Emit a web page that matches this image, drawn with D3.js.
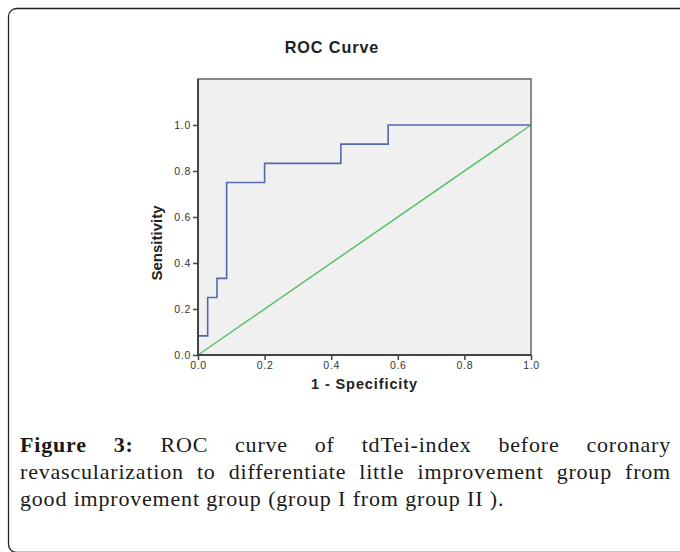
<!DOCTYPE html>
<html><head><meta charset="utf-8">
<script src="https://cdn.jsdelivr.net/npm/d3@7"></script>
<style>html,body{margin:0;padding:0;background:#fff;}svg{display:block;}</style>
</head><body>
<script>
// Data
const fpr = [0, 0, 0.029, 0.029, 0.057, 0.057, 0.086, 0.086, 0.2, 0.2, 0.429, 0.429, 0.571, 0.571, 1.0];
const tpr = [0, 0.083, 0.083, 0.25, 0.25, 0.333, 0.333, 0.75, 0.75, 0.833, 0.833, 0.917, 0.917, 1.0, 1.0];
const refX = [0, 1];
const refY = [0, 1];
const xTicks = [0, 0.2, 0.4, 0.6, 0.8, 1.0];
const yTicks = [0, 0.2, 0.4, 0.6, 0.8, 1.0];
const title = "ROC Curve";
const xLabel = "1 - Specificity";
const yLabel = "Sensitivity";
const captionLines = [
  {words: ["Figure", "3:", "ROC", "curve", "of", "tdTei-index", "before", "coronary"], bold: 2, justify: true},
  {words: ["revascularization", "to", "differentiate", "little", "improvement", "group", "from"], bold: 0, justify: true},
  {words: ["good", "improvement", "group", "(group", "I", "from", "group", "II", ")."], bold: 0, justify: false}
];

const W = 680, H = 552;
const svg = d3.select("body").append("svg").attr("width", W).attr("height", H);

// outer rounded frame
svg.append("rect").attr("x", 8.5).attr("y", 8.5).attr("width", 690).attr("height", 544)
  .attr("rx", 8).attr("fill", "none").attr("stroke", "#222").attr("stroke-width", 1.3);

const x = d3.scaleLinear().domain([0, 1]).range([198, 531]);
const y = d3.scaleLinear().domain([0, 1.2]).range([355, 79]);

// plot background
svg.append("rect").attr("x", x(0)).attr("y", y(1.2)).attr("width", x(1) - x(0)).attr("height", y(0) - y(1.2))
  .attr("fill", "#f0f0f0").attr("stroke", "#6e6e6e").attr("stroke-width", 1.6);

// title
svg.append("text").attr("x", 332).attr("y", 53).attr("text-anchor", "middle")
  .attr("font-family", "Liberation Sans, Arial, sans-serif").attr("font-weight", "bold")
  .attr("font-size", 16.2).attr("letter-spacing", 0.9).attr("fill", "#222").text(title);

// diagonal reference
const line = d3.line().x(d => x(d[0])).y(d => y(d[1]));
svg.append("path").datum(refX.map((v, i) => [v, refY[i]])).attr("d", line)
  .attr("fill", "none").attr("stroke", "#5cbf6a").attr("stroke-width", 1.5);

// ROC step curve
svg.append("path").datum(fpr.map((v, i) => [v, tpr[i]])).attr("d", line)
  .attr("fill", "none").attr("stroke", "#5468b0").attr("stroke-width", 1.6);

// axes
const xAxis = d3.axisBottom(x).tickValues(xTicks).tickFormat(d3.format(".1f")).tickSizeOuter(0).tickSize(5).tickPadding(2);
const yAxis = d3.axisLeft(y).tickValues(yTicks).tickFormat(d3.format(".1f")).tickSizeOuter(0).tickSize(5).tickPadding(2);
const gx = svg.append("g").attr("transform", `translate(0,${y(0)})`).call(xAxis);
const gy = svg.append("g").attr("transform", `translate(${x(0)},0)`).call(yAxis);
[gx, gy].forEach(g => {
  g.select(".domain").remove();
  g.selectAll(".tick line").attr("stroke", "#444").attr("stroke-width", 1.5);
  g.selectAll(".tick text").attr("font-family", "Liberation Sans, Arial, sans-serif")
    .attr("font-size", 10.5).attr("fill", "#333").attr("letter-spacing", 0.7);
});
// axis lines (darker)
svg.append("line").attr("x1", x(0)).attr("x2", x(1)).attr("y1", y(0)).attr("y2", y(0))
  .attr("stroke", "#444").attr("stroke-width", 2);
svg.append("line").attr("x1", x(0)).attr("x2", x(0)).attr("y1", y(0)).attr("y2", y(1.2))
  .attr("stroke", "#444").attr("stroke-width", 2);

// axis labels
svg.append("text").attr("x", (x(0) + x(1)) / 2).attr("y", 389).attr("text-anchor", "middle")
  .attr("font-family", "Liberation Sans, Arial, sans-serif").attr("font-weight", "bold")
  .attr("font-size", 14.5).attr("letter-spacing", 0.9).attr("fill", "#222").text(xLabel);
svg.append("text").attr("transform", `translate(162,${(y(0) + y(1)) / 2 + 3}) rotate(-90)`)
  .attr("text-anchor", "middle")
  .attr("font-family", "Liberation Sans Narrow, Arial Narrow, Liberation Sans, sans-serif").attr("font-weight", "bold")
  .attr("font-size", 15).attr("fill", "#222").text(yLabel);

// caption (justified)
const capLeft = 20, capRight = 671;
const baselines = [452, 479, 506];
const capFont = "Liberation Serif, Times New Roman, serif";
captionLines.forEach((ln, li) => {
  const g = svg.append("g");
  const nodes = ln.words.map((w, wi) => g.append("text").attr("y", baselines[li])
    .attr("font-family", capFont).attr("font-size", 22).attr("letter-spacing", 0.8).attr("fill", "#1a1a1a")
    .attr("font-weight", wi < ln.bold ? "bold" : "normal").text(w));
  const widths = nodes.map(n => n.node().getComputedTextLength());
  const total = d3.sum(widths);
  let gap;
  if (ln.justify) gap = (capRight - capLeft - total) / (nodes.length - 1);
  else gap = 6.5;
  let cx = capLeft;
  nodes.forEach((n, i) => { n.attr("x", cx); cx += widths[i] + gap; });
});
</script>
</body></html>
